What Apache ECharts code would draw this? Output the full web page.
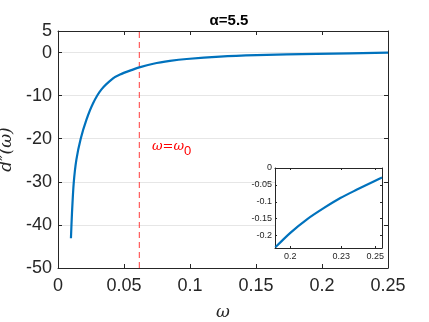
<!DOCTYPE html>
<html>
<head>
<meta charset="utf-8">
<script src="https://cdn.jsdelivr.net/npm/echarts@6/dist/echarts.min.js"></script>
<style>
    html, body { margin: 0; padding: 0; background: #fff; }
    #chart { width: 429px; height: 322px; }
</style>
</head>
<body>
<div id="chart"></div>
<script>
// main curve d''(w)
const omega = [0.0098, 0.0106, 0.0119, 0.0139, 0.0172, 0.0215, 0.0265, 0.0328, 0.0417, 0.047, 0.0545, 0.0616, 0.0722, 0.0848, 0.0975, 0.1227, 0.1505, 0.196, 0.25];
const dpp = [-43.1, -37.2, -30.3, -24.9, -20.0, -15.6, -11.8, -8.6, -6.0, -5.1, -4.2, -3.45, -2.6, -1.95, -1.5, -0.95, -0.62, -0.3, -0.04];

// inset (zoom on the tail)
const insetOmega = [0.1912, 0.2, 0.2098, 0.2196, 0.2294, 0.2392, 0.249, 0.2539];
const insetDpp = [-0.235, -0.192, -0.152, -0.119, -0.089, -0.064, -0.040, -0.028];

// dashed marker line at w = w0
const omega0 = 0.0616;
const markerY = [-50, 5];

const xTicks = [0, 0.05, 0.1, 0.15, 0.2, 0.25];
const yTicks = [-50, -40, -30, -20, -10, 0, 5];
const insetXTicks = [0.2, 0.23, 0.25];
const insetYTicks = [-0.2, -0.15, -0.1, -0.05, 0];

const axisColor = '#262626';
const labelFont = 'Liberation Sans, Arial, sans-serif';

let chart = echarts.init(document.getElementById('chart'));

function fmt(v) {
    return String(+v.toFixed(2));
}

// box axes (no labels) for top / right sides
function boxAxis(gridIndex, position, ticks, min, max, len) {
    return {
        type: 'value',
        gridIndex: gridIndex,
        position: position,
        min: min,
        max: max,
        z: gridIndex ? 6 : 0,
        axisLine: { show: true, onZero: false, lineStyle: { color: axisColor, width: 1 } },
        axisTick: { show: true, inside: true, length: len, customValues: ticks, lineStyle: { color: axisColor } },
        axisLabel: { show: false },
        splitLine: { show: false }
    };
}

let option = {
    animation: false,
    title: {
        text: 'α=5.5',
        left: 224,
        textAlign: 'center',
        top: 8,
        textStyle: { fontFamily: labelFont, fontSize: 15, fontWeight: 'bold', color: '#000' }
    },
    grid: [{
        left: 58,
        right: 41,
        top: 31,
        bottom: 54,
        outerBoundsMode: 'none',
        containLabel: false
    }, {
        left: 275,
        top: 168,
        width: 107,
        height: 80,
        show: true,
        backgroundColor: '#fff',
        borderWidth: 0,
        outerBoundsMode: 'none',
        containLabel: false,
        z: 5
    }],
    xAxis: [{
        type: 'value',
        gridIndex: 0,
        min: 0,
        max: 0.25,
        name: 'ω',
        nameLocation: 'middle',
        nameGap: 36,
        nameTextStyle: { fontFamily: 'DejaVu Serif', fontStyle: 'italic', fontSize: 17, color: axisColor },
        axisLine: { show: true, onZero: false, lineStyle: { color: axisColor, width: 1 } },
        axisTick: { show: true, inside: true, length: 4, customValues: xTicks, lineStyle: { color: axisColor } },
        axisLabel: { customValues: xTicks, formatter: fmt, margin: 9, fontFamily: labelFont, fontSize: 18, color: axisColor },
        splitLine: { show: false }
    },
        boxAxis(0, 'top', xTicks, 0, 0.25, 4),
    {
        type: 'value',
        gridIndex: 1,
        min: 0.191,
        max: 0.2539,
        z: 6,
        axisLine: { show: true, onZero: false, lineStyle: { color: axisColor, width: 1 } },
        axisTick: { show: true, inside: true, length: 2, customValues: insetXTicks, lineStyle: { color: axisColor } },
        axisLabel: { customValues: insetXTicks, formatter: fmt, margin: 4, fontFamily: labelFont, fontSize: 9, color: axisColor },
        splitLine: { show: false }
    },
        boxAxis(1, 'top', insetXTicks, 0.191, 0.2539, 2)
    ],
    yAxis: [{
        type: 'value',
        gridIndex: 0,
        min: -50,
        max: 5,
        name: 'd″(ω)',
        nameLocation: 'middle',
        nameGap: 36,
        nameTextStyle: { fontFamily: 'DejaVu Serif', fontStyle: 'italic', fontSize: 17, color: axisColor },
        axisLine: { show: true, onZero: false, lineStyle: { color: axisColor, width: 1 } },
        axisTick: { show: true, inside: true, length: 4, customValues: yTicks, lineStyle: { color: axisColor } },
        axisLabel: { customValues: yTicks, margin: 6, fontFamily: labelFont, fontSize: 18, color: axisColor },
        splitLine: { show: true, lineStyle: { color: '#e6e6e6', width: 1 } }
    },
        boxAxis(0, 'right', yTicks, -50, 5, 4),
    {
        type: 'value',
        gridIndex: 1,
        min: -0.237,
        max: 0,
        z: 6,
        axisLine: { show: true, onZero: false, lineStyle: { color: axisColor, width: 1 } },
        axisTick: { show: true, inside: true, length: 2, customValues: insetYTicks, lineStyle: { color: axisColor } },
        axisLabel: { customValues: insetYTicks, formatter: fmt, margin: 3, fontFamily: labelFont, fontSize: 9, color: axisColor },
        splitLine: { show: false }
    },
        boxAxis(1, 'right', insetYTicks, -0.237, 0, 2)
    ],
    series: [{
        name: 'omega0',
        type: 'line',
        xAxisIndex: 0,
        yAxisIndex: 0,
        data: markerY.map(v => [omega0, v]),
        showSymbol: false,
        silent: true,
        lineStyle: { color: '#ff3b3b', type: [6, 4], width: 1 },
        z: 2
    }, {
        name: 'main',
        type: 'line',
        xAxisIndex: 0,
        yAxisIndex: 0,
        data: omega.map((w, i) => [w, dpp[i]]),
        smooth: 0.25,
        showSymbol: false,
        lineStyle: { color: '#0072BD', width: 2.2 },
        z: 3
    }, {
        name: 'inset',
        type: 'line',
        xAxisIndex: 2,
        yAxisIndex: 2,
        data: insetOmega.map((w, i) => [w, insetDpp[i]]),
        smooth: 0.3,
        showSymbol: false,
        lineStyle: { color: '#0072BD', width: 2.2 },
        z: 7
    }]
};

chart.setOption(option);

// red annotation next to the dashed line
let pos = chart.convertToPixel({ xAxisIndex: 0, yAxisIndex: 0 }, [0.0712, -21.8]);
chart.setOption({
    graphic: [{
        type: 'text',
        x: pos[0],
        y: pos[1],
        z: 10,
        style: {
            text: '{w|ω=ω}{s|0}',
            verticalAlign: 'middle',
            fill: '#ff0000',
            rich: {
                w: { fontFamily: 'DejaVu Serif', fontStyle: 'italic', fontSize: 13, fill: '#ff0000' },
                s: { fontFamily: labelFont, fontSize: 13, fill: '#ff0000', padding: [10, 0, 0, 0] }
            }
        }
    }]
});
</script>
</body>
</html>
